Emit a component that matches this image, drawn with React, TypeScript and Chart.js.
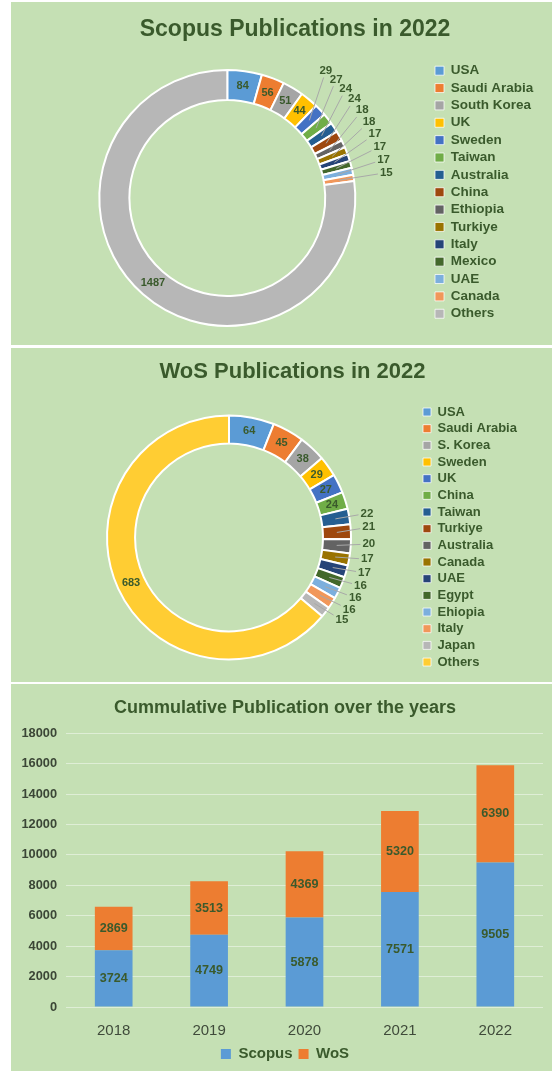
import React, { useEffect, useRef } from 'react';
import { Chart, registerables, DoughnutController } from 'chart.js';

Chart.register(...registerables);

const FONT = '"Liberation Sans", Arial, Helvetica, sans-serif';
const TEXT_GREEN = '#3a5a2c';
const PANEL_BG = '#c5e0b4';
const LEADER = '#a8a8a8';

// ---------- Scopus 2022 ----------
const scopusTitle = 'Scopus Publications in 2022';
const scopusCountries = ['USA', 'Saudi Arabia', 'South Korea', 'UK', 'Sweden', 'Taiwan', 'Australia', 'China', 'Ethiopia', 'Turkiye', 'Italy', 'Mexico', 'UAE', 'Canada', 'Others'];
const scopusCounts = [84, 56, 51, 44, 29, 27, 24, 24, 18, 18, 17, 17, 17, 15, 1487];
const scopusColors = ['#5B9BD5', '#ED7D31', '#A5A5A5', '#FFC000', '#4472C4', '#70AD47', '#255E91', '#9E480E', '#636363', '#997300', '#264478', '#43682B', '#7CAFDD', '#F1975A', '#B7B7B7'];

// ---------- WoS 2022 ----------
const wosTitle = 'WoS Publications in 2022';
const wosCountries = ['USA', 'Saudi Arabia', 'S. Korea', 'Sweden', 'UK', 'China', 'Taiwan', 'Turkiye', 'Australia', 'Canada', 'UAE', 'Egypt', 'Ehiopia', 'Italy', 'Japan', 'Others'];
const wosCounts = [64, 45, 38, 29, 27, 24, 22, 21, 20, 17, 17, 16, 16, 16, 15, 683];
const wosColors = ['#5B9BD5', '#ED7D31', '#A5A5A5', '#FFC000', '#4472C4', '#70AD47', '#255E91', '#9E480E', '#636363', '#997300', '#264478', '#43682B', '#7CAFDD', '#F1975A', '#B7B7B7', '#FFCD33'];

// ---------- Cumulative ----------
const cumulativeTitle = 'Cummulative Publication over the years';
const years = ['2018', '2019', '2020', '2021', '2022'];
const scopusCumulative = [3724, 4749, 5878, 7571, 9505];
const wosCumulative = [2869, 3513, 4369, 5320, 6390];
const yTickValues = [0, 2000, 4000, 6000, 8000, 10000, 12000, 14000, 16000, 18000];
const seriesNames = ['Scopus', 'WoS'];
const seriesColors = ['#5B9BD5', '#ED7D31'];

// ---------- layout (pixels, panel-local) ----------
const scopusLayout = {
  panelTop: 2, panelH: 343,
  titleSize: 23, titleCX: 284, titleCY: 27.4,
  cx: 216.3, cy: 196, outerR: 128, cutoutPct: 76.5,
  legendBoxX: 424, legendFirstY: 68.7, legendFont: 13.5, legendRow: 17.36, legendBox: 9,
  labelOffset: 33, labelGapDeg: 4.8, labelShiftDeg: 0, innerFont: 11, outerFont: 11.5,
};
const wosLayout = {
  panelTop: 348, panelH: 334,
  titleSize: 22, titleCX: 281.5, titleCY: 23.5,
  cx: 218, cy: 189.5, outerR: 122, cutoutPct: 77,
  legendBoxX: 412, legendFirstY: 64, legendFont: 13, legendRow: 16.67, legendBox: 8,
  labelOffset: 18, labelGapDeg: 5.3, labelShiftDeg: -1.5, innerFont: 11, outerFont: 11.5,
};

function measureMaxWidth(texts: string[], font: string): number {
  const c = document.createElement('canvas').getContext('2d') as CanvasRenderingContext2D;
  c.font = font;
  return Math.max(...texts.map((t) => c.measureText(t).width));
}

function makeDonutLabels(lay: any) {
  return {
    id: 'donutLabels',
    afterDatasetsDraw(chart: any) {
      const ctx = chart.ctx as CanvasRenderingContext2D;
      const meta = chart.getDatasetMeta(0);
      const values = chart.data.datasets[0].data as number[];
      const minInside = (7.8 * Math.PI) / 180;
      const gap = (lay.labelGapDeg * Math.PI) / 180;
      const shift = (lay.labelShiftDeg * Math.PI) / 180;
      const outside: any[] = [];
      ctx.save();
      ctx.textAlign = 'center';
      ctx.textBaseline = 'middle';
      meta.data.forEach((el: any, i: number) => {
        const p = el.getProps(['x', 'y', 'startAngle', 'endAngle', 'innerRadius', 'outerRadius'], true);
        const mid = (p.startAngle + p.endAngle) / 2;
        const rMid = (p.innerRadius + p.outerRadius) / 2;
        const text = String(values[i]);
        if (p.endAngle - p.startAngle >= minInside) {
          ctx.font = `bold ${lay.innerFont}px ${FONT}`;
          ctx.fillStyle = TEXT_GREEN;
          ctx.fillText(text, p.x + Math.cos(mid) * rMid, p.y + Math.sin(mid) * rMid);
        } else {
          outside.push({ text, mid, x: p.x, y: p.y, rMid, outer: p.outerRadius });
        }
      });
      for (let k = outside.length - 1; k >= 0; k--) {
        const o = outside[k];
        const want = o.mid + (k === 0 ? 0 : shift);
        o.ang = k === outside.length - 1 ? want : Math.min(want, outside[k + 1].ang - gap);
      }
      ctx.font = `bold ${lay.outerFont}px ${FONT}`;
      outside.forEach((o) => {
        const rl = o.outer + lay.labelOffset;
        const lx = o.x + Math.cos(o.ang) * rl;
        const ly = o.y + Math.sin(o.ang) * rl;
        const ax = o.x + Math.cos(o.mid) * o.rMid;
        const ay = o.y + Math.sin(o.mid) * o.rMid;
        const hw = ctx.measureText(o.text).width / 2 + 2;
        const hh = lay.outerFont / 2 + 1;
        const dx = ax - lx;
        const dy = ay - ly;
        const t = Math.min(dx !== 0 ? hw / Math.abs(dx) : Infinity, dy !== 0 ? hh / Math.abs(dy) : Infinity);
        ctx.strokeStyle = LEADER;
        ctx.lineWidth = 1;
        ctx.beginPath();
        ctx.moveTo(ax, ay);
        ctx.lineTo(lx + dx * t, ly + dy * t);
        ctx.stroke();
        ctx.fillStyle = TEXT_GREEN;
        ctx.fillText(o.text, lx, ly);
      });
      ctx.restore();
    },
  };
}

function DonutPanel(props: { title: string; labels: string[]; values: number[]; colors: string[]; lay: any }) {
  const { title, labels, values, colors, lay } = props;
  const canvasRef = useRef<HTMLCanvasElement>(null);
  useEffect(() => {
    const canvas = canvasRef.current as HTMLCanvasElement;
    const pad = lay.legendRow - lay.legendFont;
    const maxText = measureMaxWidth(labels, `bold ${lay.legendFont}px ${FONT}`);
    const legendLeft = lay.legendBoxX - pad;
    const legendWidth = pad + lay.legendBox + lay.legendFont / 2 + maxText + 10;
    const padL = 2 * lay.cx - legendLeft;
    const titleRight = 2 * lay.titleCX - padL;
    const canvasW = Math.ceil(titleRight);
    const padR = canvasW - titleRight;
    const spacer = Math.max(0, titleRight - (legendLeft + legendWidth));
    const plotTop = lay.legendFirstY - lay.legendFont / 2 - pad;
    const plotBottom = 2 * lay.cy - plotTop;
    const padB = lay.panelH - plotBottom;
    const titleLine = lay.titleSize * 1.2;
    const tPadTop = lay.titleCY - titleLine / 2;
    const tPadBottom = plotTop - titleLine - tPadTop;
    canvas.width = canvasW;
    canvas.height = lay.panelH;
    canvas.style.width = canvasW + 'px';
    canvas.style.height = lay.panelH + 'px';

    const baseGen = (DoughnutController as any).overrides.plugins.legend.labels.generateLabels;

    const chart = new Chart(canvas, {
      type: 'doughnut',
      data: {
        labels,
        datasets: [
          {
            data: values,
            backgroundColor: colors,
            borderColor: '#ffffff',
            borderWidth: 2,
            radius: lay.outerR,
            cutout: lay.cutoutPct + '%',
          } as any,
        ],
      },
      options: {
        responsive: false,
        animation: false,
        events: [],
        layout: { padding: { left: padL, right: padR, top: 0, bottom: padB } },
        plugins: {
          title: {
            display: true,
            text: title,
            color: TEXT_GREEN,
            font: { family: FONT, size: lay.titleSize, weight: 'bold' },
            padding: { top: tPadTop, bottom: tPadBottom },
          },
          legend: {
            position: 'right',
            align: 'start',
            fullSize: false,
            labels: {
              boxWidth: lay.legendBox,
              boxHeight: lay.legendBox,
              padding: pad,
              color: TEXT_GREEN,
              font: { family: FONT, size: lay.legendFont, weight: 'bold' },
              generateLabels: (ch: any) =>
                baseGen(ch).map((it: any) => ({ ...it, lineWidth: 1, strokeStyle: 'rgba(255,255,255,0.75)' })),
            },
          },
          tooltip: { enabled: false },
        },
        scales: {
          spacer: {
            type: 'linear',
            position: 'right',
            weight: 2000,
            display: true,
            grid: { display: false },
            border: { display: false },
            ticks: { display: false },
            afterFit: (s: any) => {
              s.width = spacer;
            },
          },
        } as any,
      },
      plugins: [makeDonutLabels(lay)],
    });
    return () => chart.destroy();
  }, []);
  return (
    <div style={{ position: 'absolute', left: 11, top: lay.panelTop, width: 541, height: lay.panelH, background: PANEL_BG }}>
      <canvas ref={canvasRef} style={{ position: 'absolute', left: 0, top: 0 }} />
    </div>
  );
}

const barLayout = {
  panelTop: 684, panelH: 387, canvasW: 541, canvasH: 388, padL: 8,
  titleSize: 18, titleCX: 274, titleCY: 24,
  plotLeft: 55, plotRight: 532, plotTop: 49.3, plotBottom: 323,
  legendFont: 15, legendBox: 10, legendPad: 6, legendCY: 370,
  xFont: 15, xLabelCY: 339, yFont: 12.8, yPad: 9, valueFont: 12.6,
};

const barValueLabels = {
  id: 'barValueLabels',
  afterDatasetsDraw(chart: any) {
    const ctx = chart.ctx as CanvasRenderingContext2D;
    ctx.save();
    ctx.font = `bold ${barLayout.valueFont}px ${FONT}`;
    ctx.fillStyle = TEXT_GREEN;
    ctx.textAlign = 'center';
    ctx.textBaseline = 'middle';
    chart.data.datasets.forEach((ds: any, di: number) => {
      const meta = chart.getDatasetMeta(di);
      meta.data.forEach((bar: any, i: number) => {
        const p = bar.getProps(['x', 'y', 'base'], true);
        ctx.fillText(String(ds.data[i]), p.x, (p.y + p.base) / 2);
      });
    });
    ctx.restore();
  },
};

function BarPanel() {
  const canvasRef = useRef<HTMLCanvasElement>(null);
  useEffect(() => {
    const L = barLayout;
    const canvas = canvasRef.current as HTMLCanvasElement;
    canvas.width = L.canvasW;
    canvas.height = L.canvasH;
    canvas.style.width = L.canvasW + 'px';
    canvas.style.height = L.canvasH + 'px';
    const padL = L.padL;
    const titleRight = 2 * L.titleCX - padL;
    const padR = Math.max(0, L.canvasW - titleRight);
    const spacer = Math.max(0, titleRight - L.plotRight);
    const yAxisW = L.plotLeft - padL;
    const legendH = L.legendFont + L.legendPad + 10;
    const padB = Math.max(0, L.canvasH - legendH - (L.legendCY - L.legendPad - L.legendFont / 2));
    const legendTop = L.canvasH - padB - legendH;
    const xAxisH = legendTop - L.plotBottom;
    const xPad = L.xLabelCY - L.plotBottom - (L.xFont * 1.2) / 2;
    const titleLine = L.titleSize * 1.2;
    const tPadTop = L.titleCY - titleLine / 2;
    const tPadBottom = L.plotTop - titleLine - tPadTop;

    const chart = new Chart(canvas, {
      type: 'bar',
      data: {
        labels: years,
        datasets: [
          { label: seriesNames[0], data: scopusCumulative, backgroundColor: seriesColors[0], borderWidth: 0 },
          { label: seriesNames[1], data: wosCumulative, backgroundColor: seriesColors[1], borderWidth: 0 },
        ],
      },
      options: {
        responsive: false,
        animation: false,
        events: [],
        layout: { padding: { left: padL, right: padR, top: 0, bottom: padB } },
        datasets: { bar: { barPercentage: 0.395, categoryPercentage: 1 } },
        plugins: {
          title: {
            display: true,
            text: cumulativeTitle,
            color: TEXT_GREEN,
            font: { family: FONT, size: L.titleSize, weight: 'bold' },
            padding: { top: tPadTop, bottom: tPadBottom },
          },
          legend: {
            position: 'bottom',
            labels: {
              boxWidth: L.legendBox,
              boxHeight: L.legendBox,
              padding: L.legendPad,
              color: TEXT_GREEN,
              font: { family: FONT, size: L.legendFont, weight: 'bold' },
            },
          },
          tooltip: { enabled: false },
        },
        scales: {
          x: {
            stacked: true,
            grid: { display: false },
            border: { display: false },
            ticks: { color: '#3f4a3a', font: { family: FONT, size: L.xFont }, padding: xPad },
            afterFit: (s: any) => {
              s.height = xAxisH;
            },
          },
          y: {
            stacked: true,
            min: yTickValues[0],
            max: yTickValues[yTickValues.length - 1],
            grid: { color: 'rgba(255,255,255,0.45)', lineWidth: 1, drawTicks: false },
            border: { display: false },
            ticks: {
              color: '#3b4636',
              font: { family: FONT, size: L.yFont, weight: 'bold' },
              padding: L.yPad,
              callback: (v: any) => String(v),
            },
            afterBuildTicks: (s: any) => {
              s.ticks = yTickValues.map((v) => ({ value: v }));
            },
            afterFit: (s: any) => {
              s.width = yAxisW;
            },
          },
          spacer: {
            type: 'linear',
            position: 'right',
            display: true,
            grid: { display: false },
            border: { display: false },
            ticks: { display: false },
            afterFit: (s: any) => {
              s.width = spacer;
            },
          },
        },
      } as any,
      plugins: [barValueLabels],
    });
    return () => chart.destroy();
  }, []);
  return (
    <div style={{ position: 'absolute', left: 11, top: barLayout.panelTop, width: 541, height: barLayout.panelH, background: PANEL_BG }}>
      <canvas ref={canvasRef} style={{ position: 'absolute', left: 0, top: 0 }} />
    </div>
  );
}

export default function App() {
  return (
    <div style={{ position: 'absolute', left: 0, top: 0, width: 552, height: 1071, overflow: 'hidden', background: '#ffffff' }}>
      <DonutPanel title={scopusTitle} labels={scopusCountries} values={scopusCounts} colors={scopusColors} lay={scopusLayout} />
      <DonutPanel title={wosTitle} labels={wosCountries} values={wosCounts} colors={wosColors} lay={wosLayout} />
      <BarPanel />
    </div>
  );
}
